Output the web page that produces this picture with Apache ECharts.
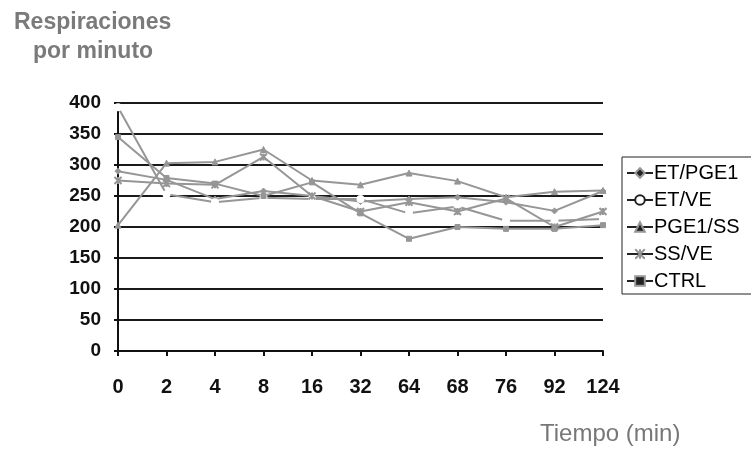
<!DOCTYPE html>
<html>
<head>
<meta charset="utf-8">
<script src="https://cdn.jsdelivr.net/npm/echarts@6/dist/echarts.min.js"></script>
<style>html,body{margin:0;padding:0;background:#fff;}#c{width:751px;height:450px;}</style>
</head>
<body>
<div id="c"></div>
<script>
var categories = ['0','2','4','8','16','32','64','68','76','92','124'];
var seriesNames = ['ET/PGE1','ET/VE','PGE1/SS','SS/VE','CTRL'];
var etPge1 = [290, 276, 245, 258, 250, 241, 245, 248, 240, 226, 258];
var etVe   = [393, 253, 240, 247, 245, 245, 222, 233, 210, 210, 213];
var pge1Ss = [203, 303, 305, 325, 275, 268, 287, 274, 248, 257, 259];
var ssVe   = [275, 270, 268, 313, 250, 225, 240, 225, 246, 200, 225];
var ctrl   = [345, 279, 270, 250, 272, 222, 181, 200, 197, 197, 203];
var yTicks = [0, 50, 100, 150, 200, 250, 300, 350, 400];

var seriesData = [etPge1, etVe, pge1Ss, ssVe, ctrl];
var symbols = ['diamond', 'emptyCircle', 'triangle', 'path://M0,0L10,10M10,0L0,10M5,0L5,10', 'rect'];
var sizes = [6, 6, 6, 7, 5];
var FONT = 'Liberation Sans, Arial, sans-serif';

var chart = echarts.init(document.getElementById('c'), null, {renderer: 'canvas'});
var series = seriesNames.map(function (n, i) {
  return {
    name: n,
    type: 'line',
    data: seriesData[i],
    symbol: symbols[i],
    symbolSize: sizes[i],
    showAllSymbol: true,
    lineStyle: {color: '#969696', width: 2},
    itemStyle: {color: i === 1 ? '#ffffff' : '#969696', borderColor: '#969696', borderWidth: i === 3 ? 2 : 1},
    z: 3
  };
});

chart.setOption({
  animation: false,
  backgroundColor: '#fff',
  grid: {left: 118, right: 148, top: 103, bottom: 99, containLabel: false},
  graphic: [
    {type: 'text', left: 14, top: 11, style: {text: 'Respiraciones', font: 'bold 23px ' + FONT, fill: '#7a7a7a'}},
    {type: 'text', left: 33, top: 40, style: {text: 'por minuto', font: 'bold 23px ' + FONT, fill: '#7a7a7a'}},
    {type: 'text', left: 540, top: 422, style: {text: 'Tiempo (min)', font: '24px ' + FONT, fill: '#777'}}
  ],
  legend: {
    orient: 'vertical',
    left: 622, top: 157,
    padding: [6, 30, 3, 4],
    borderColor: '#222', borderWidth: 1,
    itemWidth: 26, itemHeight: 12, itemGap: 7,
    data: seriesNames,
    textStyle: {fontFamily: FONT, fontSize: 20, color: '#000', padding: [0,0,0,-4]},
    itemStyle: {color: '#222'},
    lineStyle: {color: '#222', width: 2}
  },
  xAxis: {
    type: 'category',
    data: categories,
    boundaryGap: false,
    axisLine: {lineStyle: {color: '#111', width: 2}},
    axisTick: {show: true, alignWithLabel: true, length: 5, lineStyle: {color: '#111', width: 2}},
    axisLabel: {color: '#111', fontFamily: FONT, fontSize: 20, fontWeight: 'bold', margin: 26},
    splitLine: {show: false}
  },
  yAxis: {
    type: 'value',
    min: 0, max: 400, interval: 50,
    axisLine: {show: true, lineStyle: {color: '#111', width: 2}},
    axisTick: {show: true, inside: false, length: 4, lineStyle: {color: '#111', width: 2}},
    axisLabel: {color: '#111', fontFamily: FONT, fontSize: 19, fontWeight: 'bold', margin: 17,
      formatter: function (v) { return yTicks.indexOf(v) >= 0 ? String(v) : ''; }},
    splitLine: {show: true, lineStyle: {color: '#1a1a1a', width: 2}}
  },
  series: series
});
</script>
</body>
</html>
